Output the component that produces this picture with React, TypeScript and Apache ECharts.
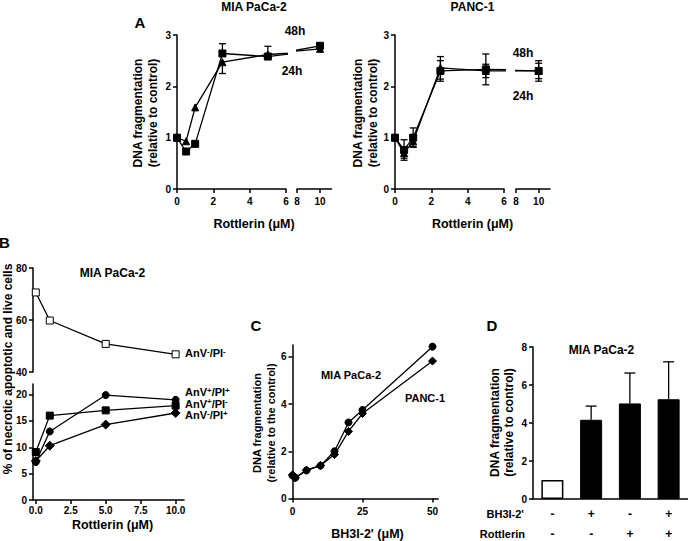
import React, { useEffect, useRef } from 'react';
import * as echarts from 'echarts';

const FONT = '"Liberation Sans", Arial, Helvetica, sans-serif';

// ---------- Panel A ----------
const rottA = [0, 0.5, 1, 2.5, 5, 10];
const mia48 = [1.0, 0.73, 0.88, 2.64, 2.58, 2.79];
const mia48ErrUp = [0, 0, 0, 0.19, 0.2, 0];
const mia24 = [1.0, 0.93, 1.59, 2.47, 2.62, 2.73];
const mia24ErrDown = [0, 0, 0, 0.22, 0, 0];
const panc48 = [1.0, 0.76, 1.0, 2.3, 2.33, 2.3];
const panc48Err = [0, 0.2, 0.19, 0.2, 0.3, 0.2];
const panc24 = [1.0, 0.7, 0.93, 2.36, 2.3, 2.3];
const panc24Err = [0, 0.1, 0.1, 0.22, 0.13, 0.15];
const aXTicksLeft = [0, 2, 4, 6];
const aXTicksRight = [8, 10];

// ---------- Panel B ----------
const rottB = [0, 1, 5, 10];
const bLive = [70.6, 59.8, 50.8, 46.8]; // AnV-/PI-
const bLateApop = [7.2, 13.0, 19.9, 19.0]; // AnV+/PI+
const bEarlyApop = [9.1, 16.0, 17.0, 17.9]; // AnV+/PI-
const bNecrotic = [7.4, 10.3, 14.3, 16.5]; // AnV-/PI+
const bXTicks = [0, 2.5, 5, 7.5, 10];
const bLowerTicks = [0, 5, 10, 15, 20];

// ---------- Panel C ----------
const bh3Doses = [0, 1, 5, 10, 15, 20, 25, 50];
const cMia = [0.97, 0.88, 1.19, 1.39, 2.0, 3.22, 3.75, 6.43];
const cPanc = [1.0, 0.88, 1.2, 1.4, 1.86, 2.84, 3.6, 5.82];
const cXTicks = [0, 25, 50];
const cYTicks = [0, 2, 4, 6];

// ---------- Panel D ----------
const dBH3 = ['-', '+', '-', '+'];
const dRott = ['-', '-', '+', '+'];
const dValues = [1.0, 4.17, 5.03, 5.25];
const dErrUp = [0, 0.72, 1.6, 1.97];

const AX = { color: '#000', width: 1.5 };
const labelStyle = (size = 10, margin = 6) => ({
  color: '#000', fontSize: size, fontWeight: 'bold', fontFamily: FONT, margin,
});

function txt(text: string, x: number, y: number, size: number, o: any = {}) {
  return {
    type: 'text', x, y, rotation: o.rot || 0, silent: true,
    style: {
      text, fontSize: size, fontWeight: 'bold', fontFamily: FONT, fill: '#000',
      align: o.align || 'center', verticalAlign: 'middle',
      textAlign: o.align || 'center', textVerticalAlign: 'middle',
      lineHeight: o.lh, rich: o.rich,
    },
  };
}

function supText(label: string) {
  const m = label.match(/^AnV(.)\/PI(.)$/);
  const a = m ? m[1] : '';
  const b = m ? m[2] : '';
  return `{n|AnV}{s|${a}}{n|/PI}{s|${b}}`;
}
const supRich = {
  n: { fontSize: 11, fontWeight: 'bold', fontFamily: FONT, fill: '#000', color: '#000', lineHeight: 11.5, verticalAlign: 'bottom' },
  s: { fontSize: 8, fontWeight: 'bold', fontFamily: FONT, fill: '#000', color: '#000', lineHeight: 4, verticalAlign: 'top' },
};

function errRender(cap: number, lw = 1.3) {
  return (params: any, api: any) => {
    const x = api.value(0);
    const v = api.value(1);
    const lo = api.value(2);
    const hi = api.value(3);
    const pl = api.coord([x, lo]);
    const ph = api.coord([x, hi]);
    const style = { stroke: '#000', lineWidth: lw };
    const children: any[] = [
      { type: 'line', shape: { x1: pl[0], y1: pl[1], x2: ph[0], y2: ph[1] }, style },
    ];
    if (lo < v) children.push({ type: 'line', shape: { x1: pl[0] - cap, y1: pl[1], x2: pl[0] + cap, y2: pl[1] }, style });
    if (hi > v) children.push({ type: 'line', shape: { x1: ph[0] - cap, y1: ph[1], x2: ph[0] + cap, y2: ph[1] }, style });
    return { type: 'group', children };
  };
}

function errData(xs: any[], vals: number[], down: number[], up: number[], keep: (x: number) => boolean) {
  const out: any[] = [];
  xs.forEach((x, i) => {
    if ((down[i] > 0 || up[i] > 0) && keep(typeof x === 'number' ? x : i)) {
      out.push([x, vals[i], vals[i] - down[i], vals[i] + up[i]]);
    }
  });
  return out;
}

const zeros = (n: number) => new Array(n).fill(0);

export default function App() {
  const ref = useRef<HTMLDivElement>(null);
  useEffect(() => {
    if (!ref.current) return;
    const chart = echarts.init(ref.current, null, { renderer: 'svg' });

    const gridBase = { containLabel: false, outerBoundsMode: 'none' };
    const grids = [
      { left: 177, top: 35, width: 109, height: 154 }, // 0 A MIA left
      { left: 297, top: 35, width: 34.5, height: 154 }, // 1 A MIA right
      { left: 395, top: 35, width: 109, height: 154 }, // 2 A PANC left
      { left: 516, top: 35, width: 34, height: 154 }, // 3 A PANC right
      { left: 33, top: 268, width: 151, height: 104 }, // 4 B upper
      { left: 33, top: 384, width: 151, height: 116 }, // 5 B lower
      { left: 292.5, top: 345, width: 145.6, height: 153.5 }, // 6 C
      { left: 533, top: 347, width: 155, height: 152 }, // 7 D
    ].map((g) => ({ ...gridBase, ...g }));

    const valX = (gridIndex: number, min: number, max: number, ticks: number[], extra: any = {}) => ({
      type: 'value', gridIndex, min, max,
      axisLine: { show: true, onZero: false, lineStyle: AX },
      axisTick: { show: true, length: 4, lineStyle: AX, customValues: ticks },
      axisLabel: { ...labelStyle(10, 7), customValues: ticks, ...(extra.axisLabel || {}) },
      splitLine: { show: false },
      show: extra.show !== undefined ? extra.show : true,
    });
    const valY = (gridIndex: number, min: number, max: number, ticks: number[], extra: any = {}) => ({
      type: 'value', gridIndex, min, max,
      axisLine: { show: true, onZero: false, lineStyle: AX },
      axisTick: { show: true, length: 4, lineStyle: AX, customValues: ticks },
      axisLabel: { ...labelStyle(10, 6), customValues: ticks },
      splitLine: { show: false },
      show: extra.show !== undefined ? extra.show : true,
    });

    const xAxis: any[] = [
      valX(0, 0, 6, aXTicksLeft),
      valX(1, 8, 11, aXTicksRight),
      valX(2, 0, 6, aXTicksLeft),
      valX(3, 8, 11, aXTicksRight),
      valX(4, -0.2, 10.6, bXTicks, { show: false }),
      valX(5, -0.2, 10.6, bXTicks, { axisLabel: { margin: 5, formatter: (v: number) => v.toFixed(1) } }),
      valX(6, 0, 52, cXTicks, { axisLabel: { margin: 8 } }),
      {
        type: 'category', gridIndex: 7, data: dValues.map((_, i) => i),
        axisLine: { show: true, onZero: false, lineStyle: AX },
        axisTick: { show: false },
        axisLabel: {
          ...labelStyle(12, 5), interval: 0, lineHeight: 20,
          formatter: (_v: any, i: number) => `${dBH3[i]}\n${dRott[i]}`,
        },
        splitLine: { show: false },
      },
    ];
    const yAxis: any[] = [
      valY(0, 0, 3, [0, 1, 2, 3]),
      valY(1, 0, 3, [], { show: false }),
      valY(2, 0, 3, [0, 1, 2, 3]),
      valY(3, 0, 3, [], { show: false }),
      valY(4, 40, 80, [40, 60, 80]),
      valY(5, 0, 22, bLowerTicks),
      valY(6, 0, 6.5, cYTicks),
      valY(7, 0, 8, [0, 2, 4, 6, 8]),
    ];

    const lineS = (xi: number, xs: number[], ys: number[], symbol: string, size: number, extra: any = {}) => ({
      type: 'line', xAxisIndex: xi, yAxisIndex: xi,
      data: xs.map((x, i) => [x, ys[i]]),
      symbol, symbolSize: size, showSymbol: true, clip: true, z: 3,
      lineStyle: { color: '#000', width: 1.3 },
      itemStyle: { color: '#000', borderColor: '#000', borderWidth: 1, ...(extra.itemStyle || {}) },
      emphasis: { disabled: true },
    });
    const errS = (xi: number, data: any[], cap: number) => ({
      type: 'custom', xAxisIndex: xi, yAxisIndex: xi, data, z: 2,
      renderItem: errRender(cap), silent: true,
    });

    const n = rottA.length;
    const left = (x: number) => x <= 6;
    const right = (x: number) => x >= 8;
    const series: any[] = [];
    [0, 1].forEach((g) => {
      const keep = g === 0 ? left : right;
      series.push(lineS(g, rottA, mia48, 'rect', 7));
      series.push(lineS(g, rottA, mia24, 'triangle', 7));
      series.push(errS(g, errData(rottA, mia48, zeros(n), mia48ErrUp, keep), 3.5));
      series.push(errS(g, errData(rottA, mia24, mia24ErrDown, zeros(n), keep), 3.5));
    });
    [2, 3].forEach((g) => {
      const keep = g === 2 ? left : right;
      series.push(lineS(g, rottA, panc48, 'rect', 7));
      series.push(lineS(g, rottA, panc24, 'triangle', 7));
      series.push(errS(g, errData(rottA, panc48, panc48Err, panc48Err, keep), 3.5));
      series.push(errS(g, errData(rottA, panc24, panc24Err, panc24Err, keep), 3.5));
    });
    series.push(lineS(4, rottB, bLive, 'rect', 7, { itemStyle: { color: '#fff', borderColor: '#000', borderWidth: 1 } }));
    series.push(lineS(5, rottB, bLateApop, 'circle', 7));
    series.push(lineS(5, rottB, bEarlyApop, 'rect', 7));
    series.push(lineS(5, rottB, bNecrotic, 'diamond', 9));
    series.push(lineS(6, bh3Doses, cMia, 'circle', 7));
    series.push(lineS(6, bh3Doses, cPanc, 'diamond', 8));
    series.push({
      type: 'bar', xAxisIndex: 7, yAxisIndex: 7, barWidth: 22,
      data: dValues.map((v, i) => ({
        value: v,
        itemStyle: i === 0
          ? { color: '#fff', borderColor: '#000', borderWidth: 1.5 }
          : { color: '#000', borderColor: '#000', borderWidth: 1 },
      })),
      emphasis: { disabled: true }, z: 2,
    });
    series.push(errS(7, errData(dValues.map((_, i) => i), dValues, zeros(4), dErrUp, () => true), 5.5));

    const graphic: any[] = [
      txt('MIA PaCa-2', 254, 6.5, 12),
      txt('PANC-1', 472.5, 6.5, 12),
      txt('A', 140, 22, 15),
      txt('48h', 295, 31, 12),
      txt('24h', 292, 71, 12),
      txt('48h', 523, 53, 12),
      txt('24h', 523, 95.5, 12),
      txt('DNA fragmentation\n(relative to control)', 145.5, 113, 12, { rot: Math.PI / 2, lh: 15 }),
      txt('DNA fragmentation\n(relative to control)', 365, 113, 12, { rot: Math.PI / 2, lh: 15 }),
      txt('Rottlerin (\u03bcM)', 254, 224, 12.5),
      txt('Rottlerin (\u03bcM)', 472.5, 224, 12.5),
      txt('B', 4.5, 242, 15),
      txt('MIA PaCa-2', 112.5, 273, 12),
      txt('% of necrotic apoptotic and live cells', 7.5, 369, 12, { rot: Math.PI / 2 }),
      txt('Rottlerin (\u03bcM)', 112.5, 525, 12.5),
      txt(supText('AnV-/PI-'), 185, 353, 11, { align: 'left', rich: supRich }),
      txt(supText('AnV+/PI+'), 185, 392, 11, { align: 'left', rich: supRich }),
      txt(supText('AnV+/PI-'), 185, 403.5, 11, { align: 'left', rich: supRich }),
      txt(supText('AnV-/PI+'), 185, 415, 11, { align: 'left', rich: supRich }),
      txt('C', 256, 325, 15),
      txt('MIA PaCa-2', 351, 375, 11),
      txt('PANC-1', 425, 398, 11),
      txt('DNA fragmentation\n(relative to the control)', 264, 423, 11, { rot: Math.PI / 2, lh: 14 }),
      txt("BH3I-2' (\u03bcM)", 367.5, 534, 12.5),
      txt('D', 492, 325, 15),
      txt('MIA PaCa-2', 601.5, 350, 12),
      txt('DNA fragmentation\n(relative to control)', 501.5, 422.5, 12, { rot: Math.PI / 2, lh: 14 }),
      txt("BH3I-2'", 524, 514, 11, { align: 'right' }),
      txt('Rottlerin', 525, 534, 11, { align: 'right' }),
    ];

    chart.setOption({
      animation: false,
      backgroundColor: '#fff',
      grid: grids,
      xAxis,
      yAxis,
      series,
      graphic,
    });
    return () => chart.dispose();
  }, []);
  return <div ref={ref} style={{ position: 'absolute', left: 0, top: 0, width: 688, height: 541 }} />;
}
